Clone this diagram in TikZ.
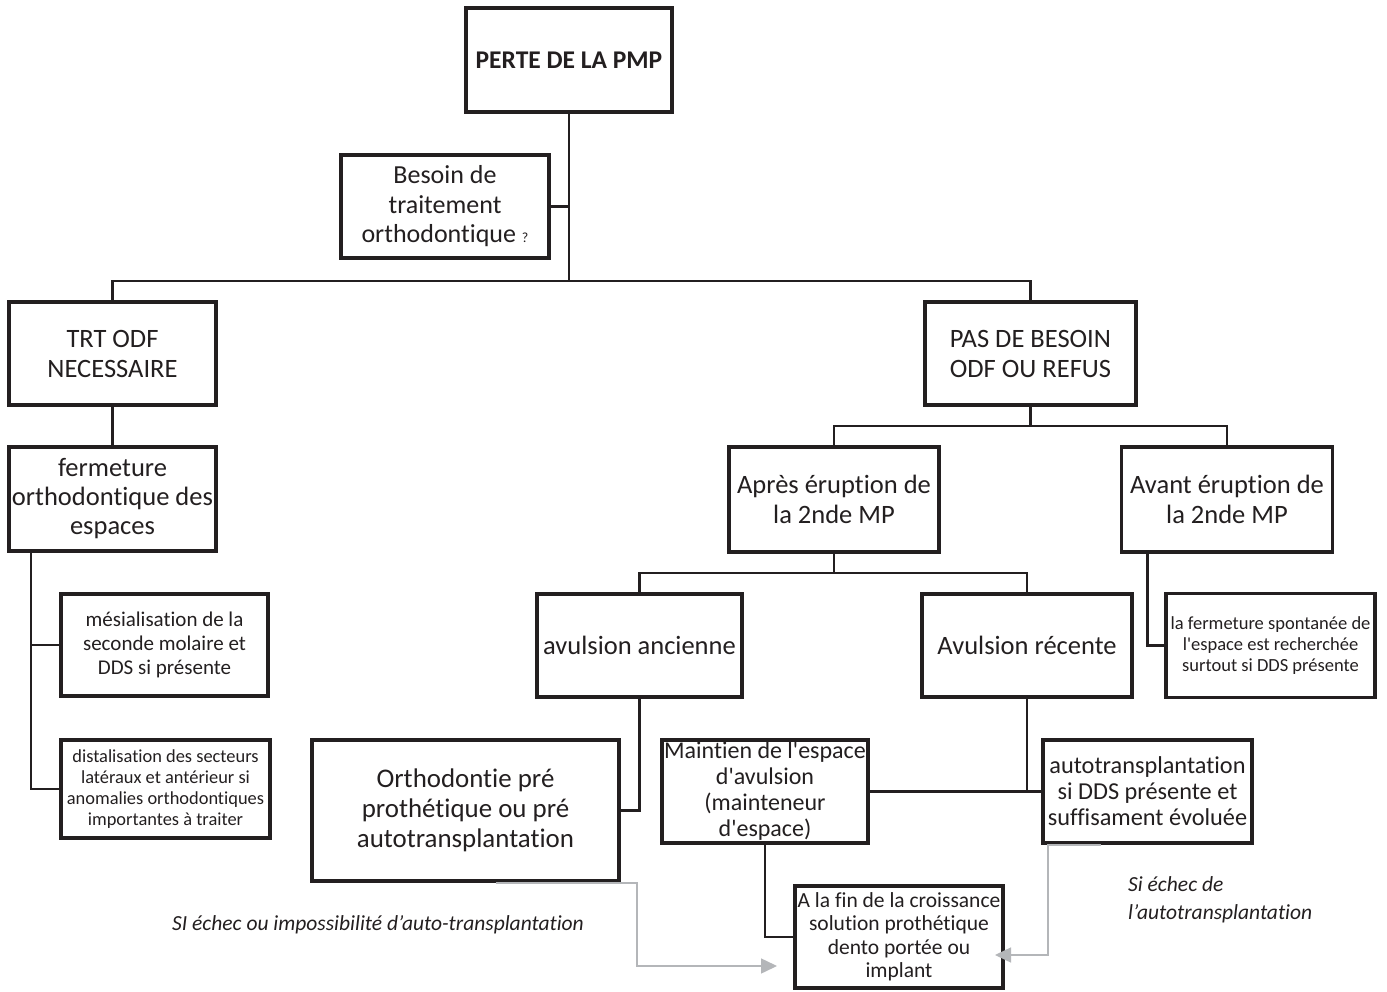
\documentclass[tikz,border=0pt]{standalone}
\usepackage{fontspec}
\setmainfont{Carlito}[Ligatures={TeX,NoCommon}]
\usetikzlibrary{arrows.meta,calc}
\definecolor{ink}{HTML}{231F20}
\definecolor{garrow}{HTML}{B4B6B9}
\newcommand\aq{\textquotesingle}
\begin{document}
\begin{tikzpicture}[x=1pt,y=-1pt,
 box/.style={draw=ink, line width=3.5pt, text=ink, align=center, inner sep=0pt, outer sep=0pt},
 conn/.style={draw=ink, line width=2.5pt},
 garr/.style={draw=garrow, line width=1.5pt, -{Triangle[length=16pt,width=15pt,fill=garrow]}},
 lbl/.style={text=ink, font=\fontsize{21.5}{28}\selectfont\itshape, inner sep=0pt}]
\useasboundingbox[fill=white] (0,0) rectangle (1387,992);

\node[box, minimum width=206, minimum height=104, font=\fontsize{25.5}{30}\selectfont\bfseries] (perte) at (569,60) {PERTE DE LA PMP};
\node[box, minimum width=208, minimum height=103, font=\fontsize{26}{29.5}\selectfont] (besoin) at (445,206.5) {Besoin de\\traitement\\orthodontique {\fontsize{14}{14}\selectfont ?}};
\node[box, minimum width=207, minimum height=103, font=\fontsize{26.5}{30}\selectfont] (trt) at (112.5,353.5) {TRT ODF\\NECESSAIRE};
\node[box, minimum width=207, minimum height=104, font=\fontsize{26.5}{29}\selectfont] (ferm) at (112.5,499) {fermeture\\orthodontique des\\espaces};
\node[box, minimum width=207, minimum height=102, font=\fontsize{21}{24}\selectfont] (mes) at (164.5,645) {mésialisation de la\\seconde molaire et\\DDS si présente};
\node[box, minimum width=209, minimum height=98, font=\fontsize{18.4}{21}\selectfont] (dist) at (165.5,789) {distalisation des secteurs\\latéraux et antérieur si\\anomalies orthodontiques\\importantes à traiter};
\node[box, minimum width=211, minimum height=103, font=\fontsize{26.5}{30}\selectfont] (pas) at (1030.5,353.5) {PAS DE BESOIN\\ODF OU REFUS};
\node[box, minimum width=210, minimum height=105, font=\fontsize{26.5}{30}\selectfont] (apres) at (834,499.5) {Après éruption de\\la 2nde MP};
\node[box, minimum width=211, minimum height=105, font=\fontsize{26.5}{30}\selectfont] (avant) at (1227,499.5) {Avant éruption de\\la 2nde MP};
\node[box, minimum width=205, minimum height=103, font=\fontsize{26.5}{30}\selectfont] (anc) at (639.5,645.5) {avulsion ancienne};
\node[box, minimum width=210, minimum height=103, font=\fontsize{26.5}{30}\selectfont] (rec) at (1027,645.5) {Avulsion récente};
\node[box, minimum width=209, minimum height=104, font=\fontsize{18.5}{21}\selectfont] (spont) at (1270.5,645.5) {la fermeture spontanée de\\l\aq espace est recherchée\\surtout si DDS présente};
\node[box, minimum width=307, minimum height=141, font=\fontsize{26.9}{30}\selectfont] (ortho) at (465.5,810.5) {Orthodontie pré\\prothétique ou pré\\autotransplantation};
\node[box, minimum width=206, minimum height=103, font=\fontsize{24}{26}\selectfont] (maint) at (765,791.5) {Maintien de l\aq espace\\d\aq avulsion\\(mainteneur\\d\aq espace)};
\node[box, minimum width=209, minimum height=103, font=\fontsize{24.3}{26}\selectfont] (auto) at (1147.5,791.5) {autotransplantation\\si DDS présente et\\suffisament évoluée};
\node[box, minimum width=208, minimum height=102, font=\fontsize{21.5}{23.5}\selectfont] (fin) at (899,937) {A la fin de la croissance\\solution prothétique\\dento portée ou\\implant};

\coordinate (j1) at ($(perte.south)+(0,169)$);
\draw[conn] (perte.south) -- (j1);
\draw[conn] (besoin.east) -- (besoin.east -| perte.south);
\draw[conn] (trt.north) |- (j1) -| (pas.north);
\draw[conn] (trt.south) -- (ferm.north);
\coordinate (fa) at ([xshift=22]ferm.south west);
\draw[conn] (fa) |- (mes.west);
\draw[conn] (fa) |- (dist.west);
\coordinate (j2) at ($(pas.south)+(0,21)$);
\draw[conn] (pas.south) -- (j2);
\draw[conn] (apres.north) |- (j2) -| (avant.north);
\coordinate (j3) at ($(apres.south)+(0,21)$);
\draw[conn] (apres.south) -- (j3);
\draw[conn] (anc.north) |- (j3) -| (rec.north);
\coordinate (av) at ([xshift=26]avant.south west);
\draw[conn] (av) |- (spont.west);
\draw[conn] (anc.south) |- (ortho.east);
\draw[conn] (rec.south) -- (rec.south |- maint.east);
\draw[conn] (maint.east) -- (auto.west);
\draw[conn] (maint.south) |- (fin.west);

\coordinate (g1a) at ([xshift=30,yshift=-2]ortho.south);
\coordinate (g1b) at (637,883);
\coordinate (g1e) at (777,966);
\draw[garr] (g1a) -- (g1b) |- (g1e);
\coordinate (g2a) at ([xshift=-47,yshift=-2]auto.south);
\coordinate (g2b) at (1048,845);
\coordinate (g2e) at (995,955);
\draw[garr] (g2a) -- (g2b) |- (g2e);

\node[lbl, anchor=west] (l1) at (172,925) {SI échec ou impossibilité d’auto-transplantation};
\node[lbl, anchor=north west, align=left] (l2) at (1128,876) {Si échec de\\l’autotransplantation};
\end{tikzpicture}
\end{document}
